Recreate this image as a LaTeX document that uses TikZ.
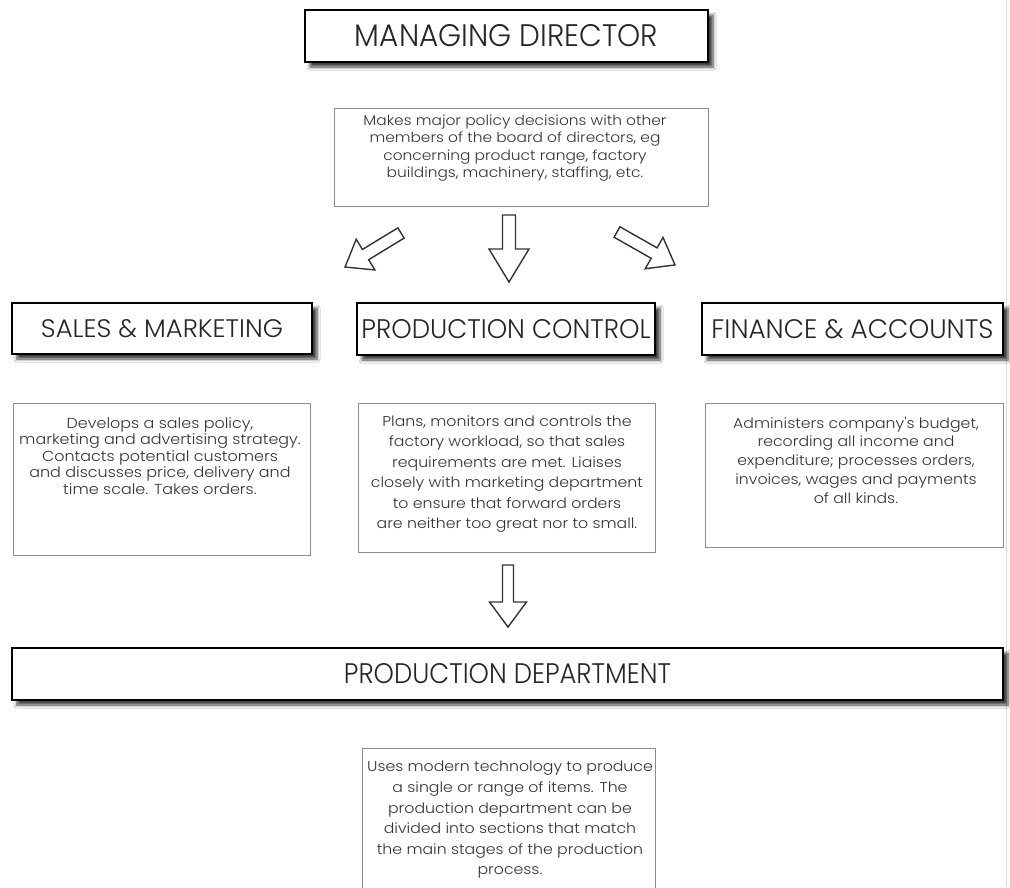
\documentclass[tikz,border=0pt]{standalone}
\usepackage{fontspec}
\setmainfont{Poppins Light}
\newfontfamily\descfont{Poppins Light}[FakeStretch=1.1]
\usepackage{graphicx}
\usetikzlibrary{shadows.blur}
\newcommand{\hollowarr}[6]{%
  \begin{scope}[shift={(#1)},rotate=#2]
    \draw[harrow] (0,#4) -- (#3-#6,#4) -- (#3-#6,#5) -- (#3,0) -- (#3-#6,-#5) -- (#3-#6,-#4) -- (0,-#4) -- cycle;
  \end{scope}}
\begin{document}
\begin{tikzpicture}[x=1pt,y=-1pt,
  titlebox/.style={draw=black, line width=2.6pt, fill=white, inner sep=0pt, text=black!85,
    blur shadow={shadow xshift=5pt, shadow yshift=-5pt, shadow blur steps=6, shadow blur radius=3pt, shadow opacity=75}},
  descbox/.style={draw=black!45, line width=1pt, inner sep=0pt},
  desctext/.style={align=center, text=black!80, inner sep=0pt},
  harrow/.style={draw=black!80, line width=1.4pt, fill=white, line join=miter}]
\useasboundingbox (0,0) rectangle (1010,887);
\clip (0,0) rectangle (1010,887);
\fill[white] (0,0) rectangle (1010,887);
\draw[black!15, line width=1pt] (1006,0) -- (1006,887);

% Managing director
\node[titlebox, minimum width=403pt, minimum height=52pt] (md) at (506.5,36) {\resizebox{303pt}{22pt}{MANAGING DIRECTOR}};
\node[descbox, minimum width=374pt, minimum height=98pt] (mdb) at (521,157) {};
\node[desctext, font=\descfont\fontsize{14}{17.5}\selectfont] (mdt) at (515,148) {Makes major policy decisions with other\\members of the board of directors, eg\\concerning product range, factory\\buildings, machinery, staffing, etc.};

% arrows
\coordinate (a1) at (401,233);
\coordinate (a2) at (509,215);
\coordinate (a3) at (617,232);
\coordinate (a4) at (508,565);
\hollowarr{a1}{211.3}{65.5}{6}{18}{24}
\hollowarr{a2}{-90}{67}{6.5}{20}{33}
\hollowarr{a3}{-29.6}{66.7}{6}{18}{24}
\hollowarr{a4}{-90}{62}{5.5}{18.5}{25}

% department titles
\node[titlebox, minimum width=300pt, minimum height=51pt] (sm) at (162,328.5) {\resizebox{242pt}{18pt}{SALES \& MARKETING}};
\node[titlebox, minimum width=298pt, minimum height=52pt] (pc) at (506,329) {\resizebox{289pt}{19pt}{PRODUCTION CONTROL}};
\node[titlebox, minimum width=301pt, minimum height=52pt] (fa) at (852.5,329) {\resizebox{282pt}{19pt}{FINANCE \& ACCOUNTS}};

% department descriptions
\node[descbox, minimum width=297pt, minimum height=152pt] (smb) at (161.5,479) {};
\node[desctext, font=\descfont\fontsize{14.5}{16.5}\selectfont] (smt) at (160,456) {Develops a sales policy,\\marketing and advertising strategy.\\Contacts potential customers\\and discusses price, delivery and\\time scale. Takes orders.};

\node[descbox, minimum width=297pt, minimum height=149pt] (pcb) at (506.5,477.5) {};
\node[desctext, font=\descfont\fontsize{14.3}{20.4}\selectfont] (pct) at (507,474) {Plans, monitors and controls the\\factory workload, so that sales\\requirements are met. Liaises\\closely with marketing department\\to ensure that forward orders\\are neither too great nor to small.};

\node[descbox, minimum width=298pt, minimum height=144pt] (fab) at (854,475) {};
\node[desctext, font=\descfont\fontsize{14.3}{18.7}\selectfont] (fat) at (856,460) {Administers company's budget,\\recording all income and\\expenditure; processes orders,\\invoices, wages and payments\\of all kinds.};

% production department
\node[titlebox, minimum width=991pt, minimum height=52pt] (pd) at (507.5,674) {\resizebox{327pt}{20pt}{PRODUCTION DEPARTMENT}};
\node[descbox, minimum width=293pt, minimum height=160pt] (pdb) at (508.5,828) {};
\node[desctext, font=\descfont\fontsize{14.3}{20.6}\selectfont] (pdt) at (510,820) {Uses modern technology to produce\\a single or range of items. The\\production department can be\\divided into sections that match\\the main stages of the production\\process.};
\end{tikzpicture}
\end{document}
